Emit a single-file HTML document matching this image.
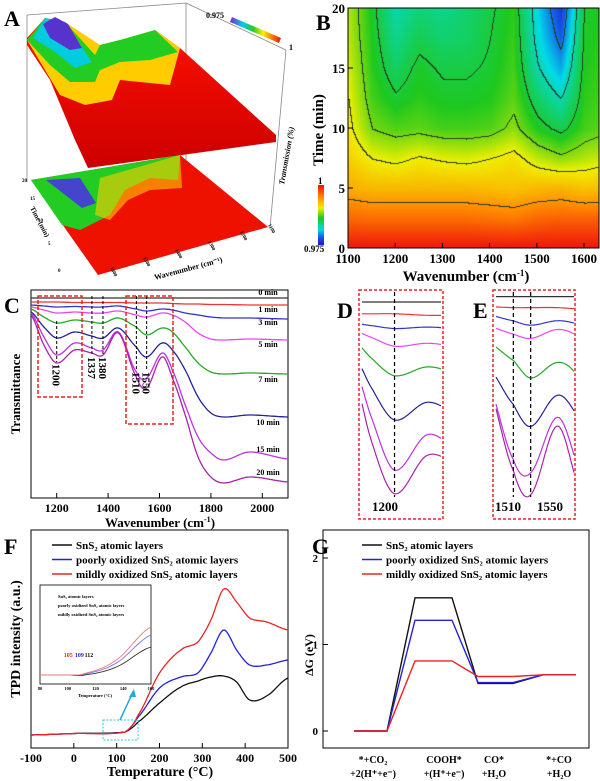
<!DOCTYPE html>
<html><head><meta charset="utf-8"><style>
html,body{margin:0;padding:0;background:#fff;}
#wrap{position:relative;width:600px;height:781px;overflow:hidden;}
svg{position:absolute;left:0;top:0;}
canvas{position:absolute;}
text{font-family:"Liberation Serif",serif;font-weight:bold;}
</style></head><body>
<div id="wrap">
<canvas id="hm" width="251" height="240" style="left:348px;top:8px"></canvas>
<canvas id="cb" width="6" height="60" style="left:318px;top:185px"></canvas>
<svg id="s" width="600" height="781" viewBox="0 0 600 781">
<g>
<g stroke="#888" stroke-width="0.8" fill="none">
<line x1="27" y1="15" x2="186" y2="3"/><line x1="27" y1="15" x2="27" y2="182"/>
<line x1="186" y1="3" x2="286" y2="50"/><line x1="186" y1="3" x2="186" y2="160"/>
<line x1="286" y1="50" x2="270" y2="228"/>
</g>
<defs>
<linearGradient id="ga" x1="0" y1="0" x2="0" y2="1"><stop offset="0" stop-color="#f10"/><stop offset="1" stop-color="#c00"/></linearGradient>
<linearGradient id="gcb" x1="0" y1="0" x2="1" y2="0"><stop offset="0" stop-color="#82c"/><stop offset="0.25" stop-color="#0ce"/><stop offset="0.45" stop-color="#2c2"/><stop offset="0.65" stop-color="#fe0"/><stop offset="0.8" stop-color="#f80"/><stop offset="1" stop-color="#e11"/></linearGradient>
</defs>
<polygon fill="url(#ga)" points="27,38 45,18 65,22 95,52 100,45 120,40 135,42 155,30 180,48 276,135 276,142 88,168 75,140 50,80 27,45"/>
<polygon fill="#fc0" points="27,40 45,18 65,22 100,45 120,40 155,30 180,48 170,85 120,80 112,100 85,105 60,95"/>
<polygon fill="#2c2" points="27,40 45,18 65,22 95,55 100,45 120,40 155,30 178,52 150,60 120,62 100,70 95,82 70,82 50,65"/>
<polygon fill="#0cd" points="33,38 45,18 65,22 92,62 75,68 55,52"/>
<polygon fill="#53c" points="43,24 55,17 68,24 82,48 70,50 50,38"/>
<polygon fill="#e10" points="31,180 180,155 268,227 98,275"/>
<polygon fill="#2c2" points="31,180 180,155 178,180 150,178 125,190 110,215 80,230 62,225"/>
<polygon fill="#fc0" opacity="0.6" points="100,178 180,155 182,188 150,190 128,200 110,220 95,215"/>
<polygon fill="#44c" points="46,180 80,178 96,203 82,208"/>
<polygon fill="url(#gcb)" points="232,17 281,38 279,43 230,22"/>
<text x="206" y="18" font-size="8" font-weight="normal">0.975</text>
<text x="289" y="50" font-size="8">1</text>
<text transform="translate(284,185) rotate(-80)" font-size="8" font-style="italic">Transmission (%)</text>
<text transform="translate(30,208) rotate(62)" font-size="7">Time (min)</text>
<text transform="translate(155,280) rotate(-15)" font-size="8">Wavenumber (cm⁻¹)</text>
<g font-size="5" font-weight="normal">
<text x="22" y="182">20</text><text x="30" y="200">15</text><text x="38" y="222">10</text><text x="48" y="245">5</text><text x="58" y="272">0</text>
<text transform="translate(110,268) rotate(62)">1600</text><text transform="translate(143,258) rotate(62)">1500</text><text transform="translate(175,250) rotate(62)">1400</text><text transform="translate(208,242) rotate(62)">1300</text><text transform="translate(240,232) rotate(62)">1200</text><text transform="translate(268,225) rotate(62)">1100</text>
</g>
<text x="4" y="26" font-size="22">A</text>
</g>
<g>
<rect x="348" y="8" width="251" height="240" fill="none" stroke="#000"/>
<g id="bticks"></g>
<text x="316" y="30" font-size="22">B</text>
<text transform="translate(323,130) rotate(-90)" text-anchor="middle" font-size="15">Time (min)</text>
<text x="466" y="281" text-anchor="middle" font-size="15">Wavenumber (cm<tspan dy="-5" font-size="9">-1</tspan><tspan dy="5">)</tspan></text>
<text x="318" y="184" font-size="9">1</text>
<text x="304" y="252" font-size="9" font-weight="normal">0.975</text>
</g>
<g>
<rect x="31" y="290" width="257" height="208" fill="none" stroke="#000"/>
<g id="cplot"></g>
<text x="4" y="313" font-size="22">C</text>
<text transform="translate(20,394) rotate(-90)" text-anchor="middle" font-size="13">Transmittance</text>
<text x="160" y="527" text-anchor="middle" font-size="13">Wavenumber (cm<tspan dy="-5" font-size="8">-1</tspan><tspan dy="5">)</tspan></text>
</g>
<g>
<rect x="359" y="290" width="84" height="229" fill="none" stroke="#e22" stroke-dasharray="3,2" stroke-width="1.5"/>
<g id="dplot"></g>
<text x="337" y="318" font-size="22">D</text>
<text x="385" y="511" text-anchor="middle" font-size="13">1200</text>
</g>
<g>
<rect x="493" y="290" width="82" height="229" fill="none" stroke="#e22" stroke-dasharray="3,2" stroke-width="1.5"/>
<g id="eplot"></g>
<text x="473" y="318" font-size="22">E</text>
<text x="508" y="511" text-anchor="middle" font-size="13">1510</text>
<text x="550" y="511" text-anchor="middle" font-size="13">1550</text>
</g>
<g>
<rect x="31" y="530" width="257" height="218" fill="none" stroke="#000"/>
<g id="fplot"></g>
<text x="4" y="554" font-size="22">F</text>
<text transform="translate(20,639) rotate(-90)" text-anchor="middle" font-size="14">TPD intensity (a.u.)</text>
<text x="160" y="776" text-anchor="middle" font-size="14">Temperature (°C)</text>
</g>
<g>
<rect x="323" y="530" width="266" height="218" fill="none" stroke="#000"/>
<g id="gplot"></g>
<text x="312" y="554" font-size="22">G</text>
<text transform="translate(313,655) rotate(-90)" text-anchor="middle" font-size="12" font-weight="normal">ΔG (eV)</text>
</g>
</svg>
</div>
<script>
const bWave=[1100,1150,1200,1250,1300,1350,1400,1450,1500,1550,1600,1635];
const bTime=[0,2.5,5,7.5,10,12.5,15,17.5,20];
const bRow0=[1,1,1,1,1,1,1,1,1,1,1,1];
const bRow1=[0.86,0.85,0.85,0.85,0.85,0.85,0.84,0.83,0.86,0.87,0.87,0.87];
const bRow2=[0.74,0.72,0.72,0.72,0.72,0.72,0.71,0.7,0.72,0.73,0.7,0.71];
const bRow3=[0.68,0.62,0.6,0.63,0.61,0.6,0.62,0.65,0.58,0.54,0.57,0.59];
const bRow4=[0.64,0.52,0.49,0.5,0.48,0.48,0.49,0.54,0.45,0.4,0.48,0.5];
const bRow5=[0.62,0.48,0.43,0.46,0.44,0.44,0.45,0.5,0.38,0.3,0.46,0.48];
const bRow6=[0.6,0.46,0.38,0.44,0.41,0.41,0.43,0.48,0.31,0.2,0.45,0.47];
const bRow7=[0.58,0.45,0.34,0.4,0.37,0.38,0.42,0.47,0.27,0.12,0.44,0.46];
const bRow8=[0.57,0.44,0.31,0.36,0.34,0.37,0.41,0.46,0.25,0.06,0.43,0.45];
const bRows=[bRow0,bRow1,bRow2,bRow3,bRow4,bRow5,bRow6,bRow7,bRow8];
const bXTicks=[1100,1200,1300,1400,1500,1600];
const bYTicks=[0,5,10,15,20];
const cWave=[1100,1150,1200,1270,1337,1380,1440,1510,1550,1610,1650,1700,1750,1800,1850,1950,2100];
const cLabels=["0 min","1 min","3 min","5 min","7 min","10 min","15 min","20 min"];
const c0=[8,8,8,8,8,8,8,8,8,8,8,8,8,8,8,8,8];
const c1=[12,12,12,12.5,12.5,12.5,12.5,13,13,13,13.5,14,14,14.5,14.5,15,15];
const c2=[15,16,17,16.5,17,17,16,19,21,19,20,23,25,27,28,28,29];
const c3=[17,20,23,22,23,23,21,25,27,23,25,32,43,49,50,49,50];
const c4=[19,27,33,30,32,33,28,37,45,38,42,57,73,82,84,83,84];
const c5=[22,37,48,42,46,48,38,57,67,53,60,80,107,123,127,125,127];
const c6=[23,47,65,53,58,60,42,82,88,63,80,115,147,163,170,162,169];
const c7=[25,55,73,60,63,65,43,87,98,67,88,125,167,187,193,187,192];
const cSeries=[c0,c1,c2,c3,c4,c5,c6,c7];
const cColors=["#333","#e33","#33c","#e4e","#2a2","#229","#b3d","#a2a"];
const cLabelY=[295,312,325,347,382,425,452,475];
const cXTicks=[1200,1400,1600,1800,2000];
const cPeaks=[1200,1337,1380,1510,1550];
const fTemp=[-100,0,120,150,200,250,290,320,350,380,410,450,500];
const fBlack=[13,14.5,16,26,45,61,67,71,72,66,48,52,70];
const fBlue=[13,14.5,16,31,60,71,75,95,118,98,83,83,88];
const fRed=[13,14.5,16,33,75,98,106,128,159,146,130,126,118];
const fXTicks=[-100,0,100,200,300,400,500];
const gSteps=["*+CO2","COOH*","CO*","*+CO"];
const gBlack=[0,1.54,0.55,0.65];
const gBlue=[0,1.28,0.56,0.65];
const gRed=[0,0.81,0.63,0.65];
const gYTicks=[0,1,2];

const NS="http://www.w3.org/2000/svg";
function mk(tag,attrs,parent){const e=document.createElementNS(NS,tag);for(const k in attrs)e.setAttribute(k,attrs[k]);parent.appendChild(e);return e;}
function interp(xs,ys,x){
  let i=0;while(i<xs.length-2&&x>xs[i+1])i++;
  const x0=xs[i],x1=xs[i+1];const t=Math.max(0,Math.min(1,(x-x0)/(x1-x0)));
  const p0=ys[Math.max(0,i-1)],p1=ys[i],p2=ys[i+1],p3=ys[Math.min(ys.length-1,i+2)];
  const t2=t*t,t3=t2*t;
  return 0.5*((2*p1)+(-p0+p2)*t+(2*p0-5*p1+4*p2-p3)*t2+(-p0+3*p1-3*p2+p3)*t3);
}
function pathFrom(xs,ys,x0,x1,sx,sy,step){let d="";for(let x=x0;x<=x1+1e-9;x+=step){const px=sx(x),py=sy(interp(xs,ys,x));d+=(d?"L":"M")+px.toFixed(1)+","+py.toFixed(1);}return d;}

function cmap(u){
  const st=[[0,[40,20,200]],[0.12,[20,90,230]],[0.25,[0,220,230]],[0.45,[30,200,30]],[0.62,[240,240,0]],[0.8,[255,140,0]],[1,[240,20,10]]];
  u=Math.max(0,Math.min(1,u));let i=0;while(i<st.length-2&&u>st[i+1][0])i++;
  const a=st[i],b=st[i+1],t=(u-a[0])/(b[0]-a[0]);return a[1].map((v,k)=>Math.round(v+(b[1][k]-v)*t));
}
function bVal(w,t){
  let i=0;while(i<bWave.length-2&&w>bWave[i+1])i++;let j=0;while(j<bTime.length-2&&t>bTime[j+1])j++;
  const fx=Math.max(0,Math.min(1,(w-bWave[i])/(bWave[i+1]-bWave[i]))),fy=Math.max(0,Math.min(1,(t-bTime[j])/(bTime[j+1]-bTime[j])));
  const a=bRows[j][i]*(1-fx)+bRows[j][i+1]*fx,b=bRows[j+1][i]*(1-fx)+bRows[j+1][i+1]*fx;return a*(1-fy)+b*fy;
}
(function(){
  const cv=document.getElementById('hm'),ctx=cv.getContext('2d'),W=251,H=240,img=ctx.createImageData(W,H);
  const bx=px=>1100+px/0.472, by=py=>20-py/12;
  const levels=[0.15,0.3,0.42,0.52,0.62,0.78];
  const lv=u=>levels.filter(l=>u>l).length;
  const U=[];for(let y=0;y<H;y++){U.push([]);for(let x=0;x<W;x++)U[y].push(bVal(bx(x),by(y)));}
  for(let y=0;y<H;y++)for(let x=0;x<W;x++){
    let c=cmap(U[y][x]);const L=lv(U[y][x]);
    if((x>0&&lv(U[y][x-1])!==L)||(y>0&&lv(U[y-1][x])!==L))c=[40,60,40];
    const o=(y*W+x)*4;img.data[o]=c[0];img.data[o+1]=c[1];img.data[o+2]=c[2];img.data[o+3]=255;}
  ctx.putImageData(img,0,0);
  const cb=document.getElementById('cb'),c2=cb.getContext('2d');
  for(let y=0;y<60;y++){const c=cmap(1-y/59);c2.fillStyle=`rgb(${c})`;c2.fillRect(0,y,6,1);}
  const g=document.getElementById('bticks');
  const sx=w=>348+(w-1100)*0.472, sy=t=>248-t*12;
  bXTicks.forEach(w=>{const l=mk('line',{x1:sx(w),x2:sx(w),y1:248,y2:243,stroke:'#000'},g);
    const t=mk('text',{x:sx(w),y:263,'text-anchor':'middle','font-size':13},g);t.textContent=w;});
  bYTicks.forEach(v=>{const l=mk('line',{x1:348,x2:353,y1:sy(v),y2:sy(v),stroke:'#000'},g);
    const t=mk('text',{x:345,y:sy(v)+5,'text-anchor':'end','font-size':13},g);t.textContent=v;});
})();

(function(){
  const g=document.getElementById('cplot');
  const sx=w=>31+(w-1100)*0.257, sy=d=>290+d;
  cSeries.forEach((s,k)=>{const p=mk('path',{d:pathFrom(cWave,s,1100,2100,sx,sy,5),fill:'none',stroke:cColors[k],'stroke-width':1.3},g);
    
    const t=mk('text',{x:268,y:cLabelY[k],'text-anchor':'middle','font-size':8},g);t.textContent=cLabels[k];});
  cXTicks.forEach(w=>{const l=mk('line',{x1:sx(w),x2:sx(w),y1:498,y2:493,stroke:'#000'},g);
    const t=mk('text',{x:sx(w),y:512,'text-anchor':'middle','font-size':12},g);t.textContent=w;});
  const pk=[[1200,321,362,371],[1337,296,355,375],[1380,296,355,375],[1510,296,370,395],[1550,296,370,390]];
  cPeaks.forEach((w,k)=>{const l=mk('line',{x1:sx(w),x2:sx(w),y1:pk[k][1],y2:pk[k][2],stroke:'#000','stroke-dasharray':'3,2'},g);
    const t=mk('text',{transform:`translate(${sx(w)-4},${pk[k][2]+2}) rotate(90)`,'font-size':11},g);t.textContent=w;});
  const b1=mk('rect',{x:38,y:296,width:44,height:101,fill:'none',stroke:'#e22','stroke-width':1.5,'stroke-dasharray':'4,2'},g);
  const b2=mk('rect',{x:126,y:296,width:47,height:128,fill:'none',stroke:'#e22','stroke-width':1.5,'stroke-dasharray':'4,2'},g);
  const gd=document.getElementById('dplot');
  const dx=w=>362+(w-1130)*(79/170), dy=d=>302+(d-8)*2.95;
  cSeries.forEach((s,k)=>{const p=mk('path',{d:pathFrom(cWave,s,1130,1300,dx,dy,2),fill:'none',stroke:cColors[k],'stroke-width':1.2},gd);});
  const ld=mk('line',{x1:dx(1200),x2:dx(1200),y1:292,y2:497,stroke:'#000','stroke-dasharray':'4,3','stroke-width':1.2},gd);
  const ge=document.getElementById('eplot');
  const ex=w=>496+(w-1470)*(78/180), ey=d=>279+d*2.2;
  cSeries.forEach((s,k)=>{const p=mk('path',{d:pathFrom(cWave,s,1470,1650,ex,ey,2),fill:'none',stroke:cColors[k],'stroke-width':1.2},ge);});
  [1510,1550].forEach(w=>{const l=mk('line',{x1:ex(w),x2:ex(w),y1:292,y2:497,stroke:'#000','stroke-dasharray':'4,3','stroke-width':1.2},ge);});
})();

(function(){
  const g=document.getElementById('fplot');
  const sx=t=>31+(t+100)*(257/600), sy=v=>748-v;
  const ser=[[fBlack,'#111','black'],[fBlue,'#22d','blue'],[fRed,'#e22','red']];
  ser.forEach(s=>{const p=mk('path',{d:pathFrom(fTemp,s[0],-100,500,sx,sy,4),fill:'none',stroke:s[1],'stroke-width':1.3},g);});
  fXTicks.forEach(t=>{const l=mk('line',{x1:sx(t),x2:sx(t),y1:748,y2:743,stroke:'#000'},g);
    const tx=mk('text',{x:sx(t),y:762,'text-anchor':'middle','font-size':12},g);tx.textContent=t;});
  const names=["SnS₂ atomic layers","poorly oxidized SnS₂ atomic layers","mildly oxidized SnS₂ atomic layers"];
  ser.forEach((s,k)=>{const y=545+k*14.5;const l=mk('line',{x1:52,x2:72,y1:y,y2:y,stroke:s[1],'stroke-width':1.5},g);
    const t=mk('text',{x:76,y:y+4,'font-size':11},g);t.textContent=names[k];});
  const ib=mk('rect',{x:40,y:585,width:111,height:99,fill:'#fff',stroke:'#000','stroke-width':0.8},g);
  const ix=t=>40+(t-80)*(111/80), iy=v=>675-v;
  const inBlack=[0,0,0,8,28],inBlue=[0,0,1,12,40],inRed=[0,0,1.5,15,48],inT=[80,100,112,135,160];
  [[inBlack,'#333'],[inBlue,'#77e'],[inRed,'#e77']].forEach(s=>{const p=mk('path',{d:pathFrom(inT,s[0],80,160,ix,iy,2),fill:'none',stroke:s[1],'stroke-width':0.9},g);});
  [["105","#e22",100],["109","#22d",108],["112","#111",115]].forEach(a=>{const t=mk('text',{x:ix(a[2])-4,y:657,'font-size':6,fill:a[1]},g);t.textContent=a[0];});
  names.forEach((n,k)=>{const t=mk('text',{x:58,y:598+k*9,'font-size':4.5,'font-weight':'normal'},g);t.textContent=n;});
  [[80,"80"],[100,"100"],[120,"120"],[140,"140"],[160,"160"]].forEach(a=>{const t=mk('text',{x:ix(a[0]),y:690,'font-size':4.5,'text-anchor':'middle'},g);t.textContent=a[1];});
  const it=mk('text',{x:95,y:697,'font-size':4.5,'text-anchor':'middle'},g);it.textContent="Temperature (°C)";
  const cbx=mk('rect',{x:103,y:720,width:35,height:20,fill:'none',stroke:'#2cd','stroke-dasharray':'2,1.5','stroke-width':1},g);
  const ar=mk('line',{x1:120,y1:720,x2:133,y2:692,stroke:'#2ad','stroke-width':1.5},g);
  const ah=mk('polygon',{points:'134,689 129,697 136,697',fill:'#2ad'},g);
})();

(function(){
  const g=document.getElementById('gplot');
  const stepX=[[354,387],[415,452],[478,513],[543,576]];
  const sy=v=>731-v*86.5;
  const ser=[[gBlack,'#111','black'],[gBlue,'#22d','blue'],[gRed,'#e22','red']];
  ser.forEach(s=>{let d="";s[0].forEach((v,i)=>{d+=(i?"L":"M")+stepX[i][0]+","+sy(v)+"L"+stepX[i][1]+","+sy(v);});
    const p=mk('path',{d:d,fill:'none',stroke:s[1],'stroke-width':1.4},g);});
  gYTicks.forEach(v=>{const l=mk('line',{x1:323,x2:328,y1:sy(v),y2:sy(v),stroke:'#000'},g);
    const t=mk('text',{x:318,y:sy(v)+4,'text-anchor':'end','font-size':11},g);t.textContent=v;});
  const names=["SnS₂ atomic layers","poorly oxidized SnS₂ atomic layers","mildly oxidized SnS₂ atomic layers"];
  ser.forEach((s,k)=>{const y=545+k*14.5;const l=mk('line',{x1:362,x2:382,y1:y,y2:y,stroke:s[1],'stroke-width':1.5},g);
    const t=mk('text',{x:386,y:y+4,'font-size':11},g);t.textContent=names[k];});
  const l1=["*+CO₂","COOH*","CO*","*+CO"],l2=["+2(H⁺+e⁻)","+(H⁺+e⁻)","+H₂O","+H₂O"],cx=[373,444,494,559];
  gSteps.forEach((s,i)=>{const a=mk('text',{x:cx[i],y:763,'text-anchor':'middle','font-size':10},g);a.textContent=l1[i];
    const b=mk('text',{x:cx[i],y:777,'text-anchor':'middle','font-size':10},g);b.textContent=l2[i];});
})();
</script>
</body></html>
